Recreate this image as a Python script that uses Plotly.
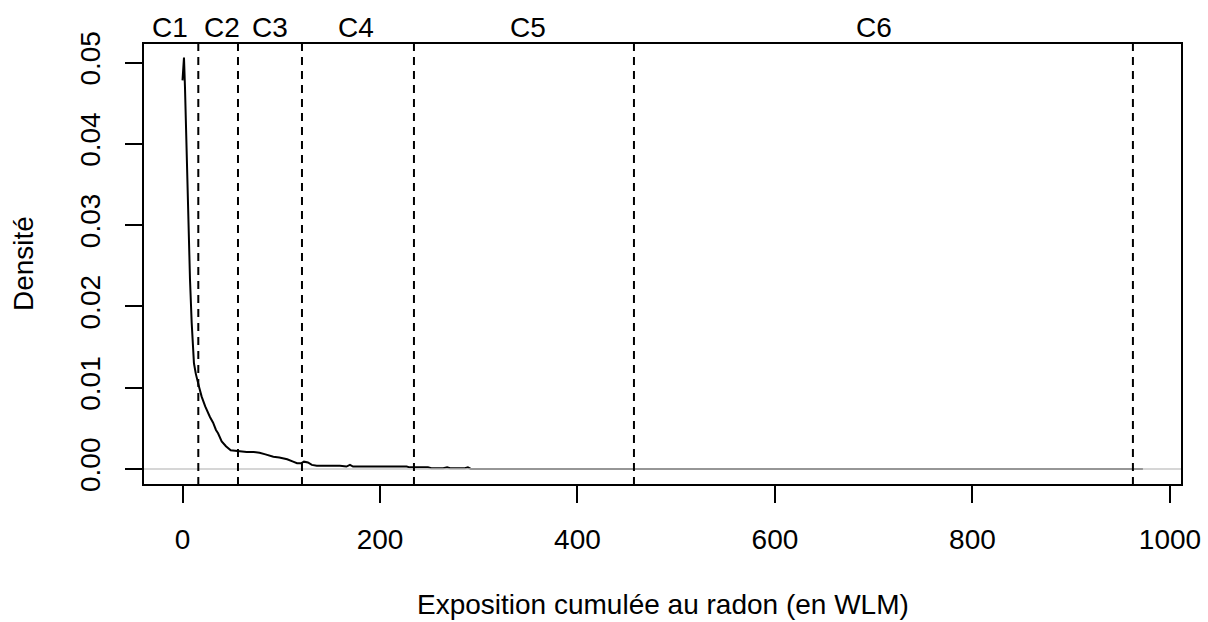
import plotly.graph_objects as go

# Density curve
expo = [0, 1.5, 2.5, 3.5, 4.5, 6, 7.6, 9.3, 11.6, 13.5, 15, 17, 19.4, 23, 27.8, 31, 33.9, 36,
        39.7, 44, 48.8, 55, 65, 72, 78, 84, 92, 98, 102, 106, 112, 116, 120, 123, 127, 131,
        136, 159.5, 166, 169.6, 172.7, 227, 230, 248.6, 252, 264, 268, 271, 286, 289, 292, 972.6]
densite = [0.0478, 0.0506, 0.0470, 0.0420, 0.0370, 0.0294, 0.0233, 0.0180, 0.0130, 0.0117,
           0.0108, 0.0100, 0.0089, 0.0077, 0.0064, 0.0057, 0.0048, 0.0044, 0.0034, 0.0028,
           0.0023, 0.0022, 0.0021, 0.0021, 0.0020, 0.0018, 0.0015, 0.0014, 0.0013, 0.0012,
           0.0009, 0.0007, 0.0007, 0.0009, 0.0008, 0.0005, 0.0004, 0.0004, 0.0003, 0.0005,
           0.0003, 0.0003, 0.0002, 0.0002, 0.0001, 0.0001, 0.0002, 0.0001, 0.0001, 0.0002,
           0.0, 0.0]

# Class boundaries (dashed lines) and class labels
bornes = [16.0, 56.2, 121.0, 234.4, 457.2, 962.5]
classes = ["C1", "C2", "C3", "C4", "C5", "C6"]
pos_classes = [-12.7, 39.7, 88.6, 175.4, 350, 700]

x_ticks = [0, 200, 400, 600, 800, 1000]
y_ticks = [0.00, 0.01, 0.02, 0.03, 0.04, 0.05]
y_ticklabels = ["0.00", "0.01", "0.02", "0.03", "0.04", "0.05"]

FONT = "Liberation Sans, Arial, sans-serif"
FS = 28

fig = go.Figure()

fig.add_trace(go.Scatter(x=expo, y=densite, mode="lines",
                         line=dict(color="black", width=2), hoverinfo="skip",
                         showlegend=False))

# horizontal grey reference line at 0
fig.add_hline(y=0, line=dict(color="rgba(200,200,200,0.75)", width=2.2))

for b in bornes:
    fig.add_vline(x=b, line=dict(color="black", width=2, dash="8px,6px"))

for lab, px in zip(classes, pos_classes):
    fig.add_annotation(x=px, xref="x", y=1.034, yref="paper", text=lab,
                       showarrow=False, xanchor="center", yanchor="middle",
                       font=dict(family=FONT, size=FS, color="black"))

# axis titles
fig.add_annotation(x=0.5, xref="paper", y=0, yref="paper", yshift=-119,
                   text="Exposition cumulée au radon (en WLM)", showarrow=False,
                   xanchor="center", yanchor="middle",
                   font=dict(family=FONT, size=FS, color="black"))
fig.add_annotation(x=0, xref="paper", y=0.5, yref="paper", xshift=-120,
                   text="Densité", textangle=-90, showarrow=False,
                   xanchor="center", yanchor="middle",
                   font=dict(family=FONT, size=FS, color="black"))

# box
fig.add_shape(type="rect", xref="paper", yref="paper", x0=0, x1=1, y0=0, y1=1,
              line=dict(color="black", width=2), fillcolor="rgba(0,0,0,0)")

fig.update_layout(
    template="none",
    width=1208, height=622, autosize=False,
    margin=dict(l=143, r=26, t=43, b=137, autoexpand=False),
    plot_bgcolor="white", paper_bgcolor="white",
    font=dict(family=FONT, size=FS, color="black"),
    showlegend=False,
    xaxis=dict(range=[-40.0, 1012.2], tickvals=x_ticks,
               ticktext=[str(v) for v in x_ticks],
               ticks="outside", ticklen=17, tickwidth=2, tickcolor="black",
               showgrid=False, zeroline=False, showline=False, automargin=False,
               ticklabelstandoff=12),
    yaxis=dict(range=[-0.00197, 0.0524], tickvals=y_ticks, ticktext=y_ticklabels,
               tickangle=-90,
               ticks="outside", ticklen=17, tickwidth=2, tickcolor="black",
               showgrid=False, zeroline=False, showline=False, automargin=False,
               ticklabelstandoff=14),
)

fig.write_html("out.html", config={"displayModeBar": False},
               post_script="document.body.style.margin='0';document.body.style.overflow='hidden';")
